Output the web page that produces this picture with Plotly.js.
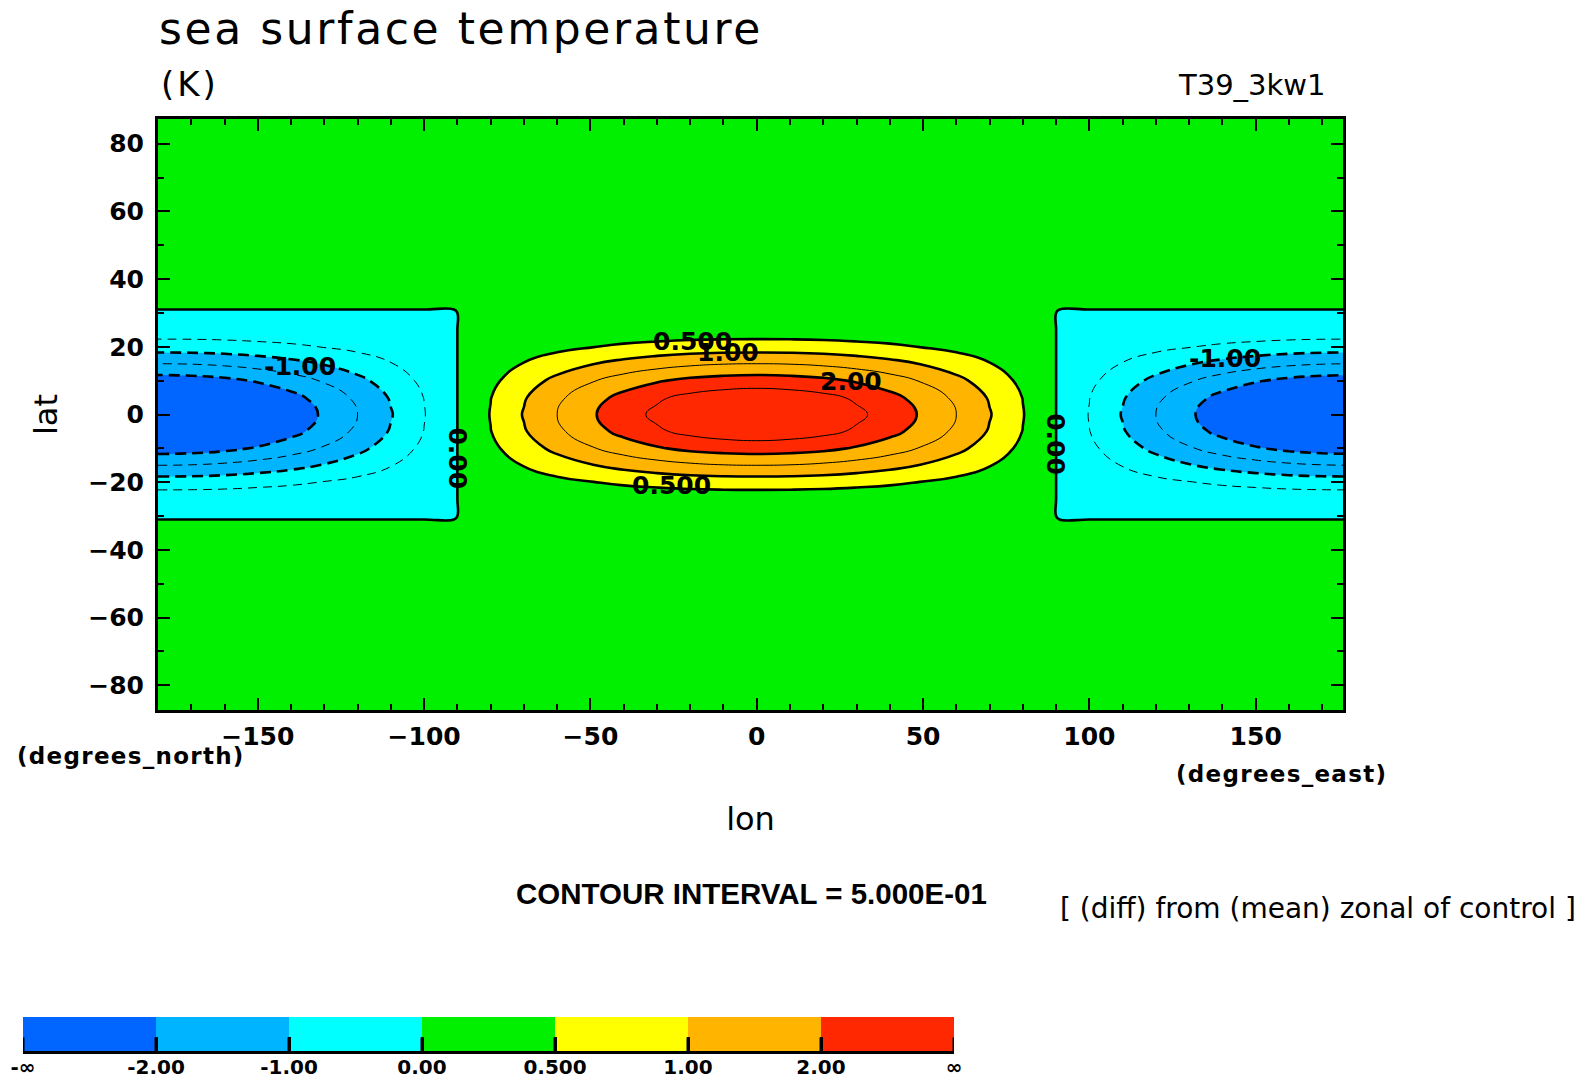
<!DOCTYPE html>
<html>
<head>
<meta charset="utf-8">
<script src="https://cdn.plot.ly/plotly-3.0.1.min.js"></script>
<style>
html,body{margin:0;padding:0;background:#fff;}
#chart{width:1586px;height:1084px;}
.gtitle{letter-spacing:2.6px;}
.annotation[data-index="0"] text{letter-spacing:3px;}
.annotation[data-index="2"] text{letter-spacing:1.3px;}
.annotation[data-index="3"] text{letter-spacing:1.3px;}
</style>
</head>
<body>
<div id="chart"></div>
<script>
// ---- grid (degrees) ----
const lon = [-180,-170,-160,-150,-140,-130,-120,-110,-100,-91,-90,-80,-70,-60,-50,-40,-30,-20,-10,0,10,20,30,40,50,60,70,80,90,91,100,110,120,130,140,150,160,170,180];
const lat = [-90,-31,-30,-25,-20,-15,-10,-5,0,5,10,15,20,25,30,31,90];

// ---- SST difference (K), one row per latitude ----
const sstRowOut = [0,0,0,0,0,0,0,0,0,0,0,0,0,0,0,0,0,0,0,0,0,0,0,0,0,0,0,0,0,0,0,0,0,0,0,0,0,0,0];
const sstRow30 = [-0.02,-0.02,-0.02,-0.02,-0.02,-0.02,-0.02,-0.02,-0.02,-0.02,0,0,0,0,0,0,0,0,0,0,0,0,0,0,0,0,0,0,0,-0.02,-0.02,-0.02,-0.02,-0.02,-0.02,-0.02,-0.02,-0.02,-0.02];
const sstRow25 = [-0.20,-0.20,-0.19,-0.17,-0.15,-0.13,-0.10,-0.07,-0.03,-0.01,0,0.03,0.07,0.10,0.13,0.15,0.17,0.19,0.20,0.20,0.20,0.19,0.17,0.15,0.13,0.10,0.07,0.03,0,-0.01,-0.03,-0.07,-0.10,-0.13,-0.15,-0.17,-0.19,-0.20,-0.20];
const sstRow20 = [-0.75,-0.74,-0.71,-0.65,-0.58,-0.48,-0.38,-0.26,-0.13,-0.01,0,0.13,0.26,0.38,0.48,0.58,0.65,0.71,0.74,0.75,0.74,0.71,0.65,0.58,0.48,0.38,0.26,0.13,0,-0.01,-0.13,-0.26,-0.38,-0.48,-0.58,-0.65,-0.71,-0.74,-0.75];
const sstRow15 = [-1.50,-1.48,-1.41,-1.30,-1.15,-0.97,-0.75,-0.52,-0.26,-0.03,0,0.26,0.52,0.75,0.97,1.15,1.30,1.41,1.48,1.50,1.48,1.41,1.30,1.15,0.97,0.75,0.52,0.26,0,-0.03,-0.26,-0.52,-0.75,-0.97,-1.15,-1.30,-1.41,-1.48,-1.50];
const sstRow10 = [-2.25,-2.21,-2.12,-1.95,-1.73,-1.45,-1.13,-0.77,-0.39,-0.04,0,0.39,0.77,1.13,1.45,1.73,1.95,2.12,2.21,2.25,2.21,2.12,1.95,1.73,1.45,1.13,0.77,0.39,0,-0.04,-0.39,-0.77,-1.13,-1.45,-1.73,-1.95,-2.12,-2.21,-2.25];
const sstRow5 = [-2.80,-2.75,-2.63,-2.43,-2.15,-1.80,-1.40,-0.96,-0.49,-0.05,0,0.49,0.96,1.40,1.80,2.15,2.43,2.63,2.75,2.80,2.75,2.63,2.43,2.15,1.80,1.40,0.96,0.49,0,-0.05,-0.49,-0.96,-1.40,-1.80,-2.15,-2.43,-2.63,-2.75,-2.80];
const sstRow0 = [-3.00,-2.95,-2.82,-2.60,-2.30,-1.93,-1.50,-1.03,-0.52,-0.05,0,0.52,1.03,1.50,1.93,2.30,2.60,2.82,2.95,2.99,2.95,2.82,2.60,2.30,1.93,1.50,1.03,0.52,0,-0.05,-0.52,-1.03,-1.50,-1.93,-2.30,-2.60,-2.82,-2.95,-3.00];

const sstDiff = [sstRowOut, sstRowOut, sstRow30, sstRow25, sstRow20, sstRow15, sstRow10, sstRow5, sstRow0,
                 sstRow5, sstRow10, sstRow15, sstRow20, sstRow25, sstRow30, sstRowOut, sstRowOut];

// ---- colour key ----
const fillColors = ['#0066ff','#00b4ff','#00ffff','#00f000','#ffff00','#ffb400','#ff2800'];
const keyLabels = ['-\u221e','-2.00','-1.00','0.00','0.500','1.00','2.00','\u221e'];
const keyIndex = [0,1,2,3,4,5,6];

// ---- contour labels ----
const labelText = ['0.500','1.00','2.00','0.500','-1.00','-1.00','0.00','0.00'];
const labelLon  = [-19.4, -8.6, 28.4, -25.7, -137.2, 140.9, -90.1, 89.8];
const labelLat  = [21.6, 18.3, 9.8, -21.0, 14.3, 16.5, -13.0, -8.9];
const labelAngle = [0,0,0,0,0,0,90,90];

// ---------------------------------------------------------------
const EPS = 1e-6;
// 11 bands of width 0.5 from (<-2) to (>=2.5), mapped onto the 7 key colours
const bandColorIndex = [0,1,1,2,2,3,4,5,5,6,6];
const nb = bandColorIndex.length;
const fillScale = [];
bandColorIndex.forEach((ci,k)=>{
  const lo = Math.max(0,(k-0.5)/(nb-1)), hi = Math.min(1,(k+0.5)/(nb-1));
  fillScale.push([lo, fillColors[ci]], [hi, fillColors[ci]]);
});

const SMOOTH = 1.3;
const fillTrace = {
  type:'contour', x:lon, y:lat, z:sstDiff, autocontour:false,
  contours:{start:-2-EPS, end:2.5-EPS, size:0.5, coloring:'fill', showlines:false},
  colorscale:fillScale, showscale:false, line:{width:0, smoothing:SMOOTH}, hoverinfo:'skip'
};
function lineTrace(start,end,size,width,dash){
  return {type:'contour', x:lon, y:lat, z:sstDiff, autocontour:false,
    contours:{start:start-EPS, end:end-EPS, size:size, coloring:'none'},
    line:{color:'#000', width:width, dash:dash, smoothing:SMOOTH},
    showscale:false, hoverinfo:'skip'};
}
const traces = [
  fillTrace,
  lineTrace(0,1,0.5,2.6,'solid'),
  lineTrace(2,2,1,2.6,'solid'),
  lineTrace(1.5,2.5,1,1,'solid'),
  lineTrace(-2,-1,1,2.6,'11px,6px'),
  lineTrace(-1.5,-0.5,1,1,'9px,6px')
];

// colour key as a heatmap strip
const keyScale = [];
fillColors.forEach((c,i)=>{ keyScale.push([i/fillColors.length,c],[(i+1)/fillColors.length,c]); });
traces.push({
  type:'heatmap', x:keyIndex.map(i=>i+0.5), y:[0.5], z:[keyIndex], xaxis:'x2', yaxis:'y2',
  colorscale:keyScale, zmin:-0.5, zmax:fillColors.length-0.5, showscale:false, hoverinfo:'skip'
});
// short separators at the key boundaries (drawn as shapes above the strip)
const shapes = keyLabels.map((_,i)=>({type:'line', xref:'x2', yref:'y2', x0:i, x1:i, y0:0, y1:0.4,
  line:{color:'#000', width:3}, layer:'above'}));

const W=1586, H=1084;
const px = v=>v/W, py = v=>1-v/H;
const tickFont = {family:'DejaVu Sans', size:25, weight:'bold', color:'#000'};

const annotations = [
  {text:'(K)', x:px(159), y:py(84), xanchor:'left', yanchor:'middle', align:'left', font:{family:'DejaVu Sans', size:34, color:'#000'}},
  {text:'T39_3kw1', x:px(1328), y:py(85), xanchor:'right', yanchor:'middle', font:{family:'DejaVu Sans', size:29, color:'#000'}},
  {text:'(degrees_north)', x:px(15), y:py(756), xanchor:'left', yanchor:'middle', align:'left', font:{family:'DejaVu Sans', size:23, weight:'bold', color:'#000'}},
  {text:'(degrees_east)', x:px(1174), y:py(774), xanchor:'left', yanchor:'middle', align:'left', font:{family:'DejaVu Sans', size:23, weight:'bold', color:'#000'}},
  {text:'CONTOUR INTERVAL = 5.000E-01', x:px(514), y:py(893), xanchor:'left', yanchor:'middle', align:'left', font:{family:'Liberation Sans', size:29.5, weight:'bold', color:'#000'}},
  {text:'[ (diff) from (mean) zonal of control ]', x:px(1058), y:py(908), xanchor:'left', yanchor:'middle', align:'left', font:{family:'DejaVu Sans', size:28, color:'#000'}}
].map(a=>Object.assign({xref:'paper', yref:'paper', showarrow:false}, a));

labelText.forEach((t,i)=>{
  annotations.push({text:t, x:labelLon[i], y:labelLat[i], xref:'x', yref:'y', showarrow:false,
    textangle:labelAngle[i], font:{family:'DejaVu Sans', size:25, weight:'bold', color:'#000'}});
});

const layout = {
  width:W, height:H, margin:{l:0,r:0,t:0,b:0},
  paper_bgcolor:'#fff', plot_bgcolor:'#fff', showlegend:false,
  font:{family:'DejaVu Sans', color:'#000'},
  title:{text:'sea surface temperature', x:px(159), xanchor:'left', xref:'paper',
         y:1-13/H, yanchor:'top', yref:'container', font:{family:'DejaVu Sans', size:44, color:'#000'}},
  xaxis:{domain:[px(158), px(1343)], range:[-180,176.25], anchor:'y',
    tick0:0, dtick:50, ticks:'inside', ticklen:12, tickwidth:2, tickcolor:'#000',
    minor:{tick0:0, dtick:10, ticks:'inside', ticklen:6, tickwidth:2, tickcolor:'#000', showgrid:false},
    showline:true, linewidth:3, linecolor:'#000', mirror:'ticks', showgrid:false, zeroline:false,
    tickfont:tickFont, ticklabelstandoff:2, automargin:false, fixedrange:true,
    title:{text:'lon', font:{family:'DejaVu Sans', size:32, color:'#000'}, standoff:58}},
  yaxis:{domain:[py(710), py(119)], range:[-87.3,87.3], anchor:'x',
    tick0:0, dtick:20, ticks:'inside', ticklen:12, tickwidth:2, tickcolor:'#000',
    minor:{tick0:0, dtick:10, ticks:'inside', ticklen:6, tickwidth:2, tickcolor:'#000', showgrid:false},
    showline:true, linewidth:3, linecolor:'#000', mirror:'ticks', showgrid:false, zeroline:false,
    tickfont:tickFont, ticklabelstandoff:6, automargin:false, fixedrange:true,
    title:{text:'lat', font:{family:'DejaVu Sans', size:32, color:'#000'}, standoff:22}},
  xaxis2:{domain:[px(23), px(954)], range:[0,keyLabels.length-1], anchor:'y2',
    tickvals:keyLabels.map((_,i)=>i), ticktext:keyLabels,
    ticks:'inside', ticklen:14, tickwidth:3, tickcolor:'#000',
    showline:true, linewidth:3, linecolor:'#000', showgrid:false, zeroline:false,
    tickfont:{family:'DejaVu Sans', size:20, weight:'bold', color:'#000'}, ticklabelstandoff:-4,
    automargin:false, fixedrange:true},
  yaxis2:{domain:[py(1051), py(1017)], range:[0,1], anchor:'x2', visible:false, fixedrange:true},
  shapes:shapes,
  annotations:annotations
};

Plotly.newPlot('chart', traces, layout, {staticPlot:true, displayModeBar:false});
</script>
</body>
</html>
